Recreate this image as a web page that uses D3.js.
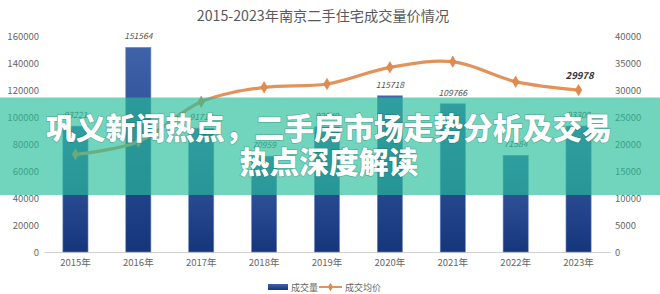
<!DOCTYPE html>
<html><head><meta charset="utf-8">
<script src="https://cdn.jsdelivr.net/npm/d3@7/dist/d3.min.js"></script>
<style>
html,body{margin:0;padding:0;background:#fff;}
svg{display:block;font-family:"Noto Sans CJK SC","Noto Sans",sans-serif;}
</style></head>
<body>
<svg id="c" width="660" height="294"></svg>
<script>
const title = "2015-2023年南京二手住宅成交量价情况";
const years = ["2015年","2016年","2017年","2018年","2019年","2020年","2021年","2022年","2023年"];
const volume = [93221,151564,91714,70959,92649,115718,109766,71584,93300];
const price = [18090,20430,27830,30500,31110,34200,35240,31540,29978];
const leftTicks = [0,20000,40000,60000,80000,100000,120000,140000,160000];
const rightTicks = [0,5000,10000,15000,20000,25000,30000,35000,40000];
const seriesNames = ["成交量","成交均价"];
const bannerLines = ["巩义新闻热点，二手房市场走势分析及交易","热点深度解读"];

const svg = d3.select("#c");
const W = 660, H = 294;
const x = d3.scaleBand().domain(years).range([44,610]).paddingInner(0.6).paddingOuter(0.3);
const yL = d3.scaleLinear().domain([0,160000]).range([252,36]);
const yR = d3.scaleLinear().domain([0,40000]).range([252,36]);

const defs = svg.append("defs");
const g = defs.append("linearGradient").attr("id","bg").attr("x1",0).attr("y1",0).attr("x2",0).attr("y2",1);
g.append("stop").attr("offset","0%").attr("stop-color","#3f62a8");
g.append("stop").attr("offset","100%").attr("stop-color","#16367c");

// title
svg.append("text").attr("x",323).attr("y",21).attr("text-anchor","middle")
  .attr("font-size",14.2).attr("fill","#595959").text(title);

// left axis
const axL = d3.axisLeft(yL).tickValues(leftTicks).tickSize(0).tickPadding(0).tickFormat(d3.format("d"));
const gL = svg.append("g").attr("transform","translate(39,0)").call(axL);
gL.select(".domain").remove();
gL.selectAll("text").attr("font-size",9.5).attr("fill","#666").attr("font-family","'Noto Sans CJK SC',sans-serif");

// right axis
const axR = d3.axisRight(yR).tickValues(rightTicks).tickSize(0).tickPadding(0).tickFormat(d3.format("d"));
const gR = svg.append("g").attr("transform","translate(615,0)").call(axR);
gR.select(".domain").remove();
gR.selectAll("text").attr("font-size",9.5).attr("fill","#666").attr("font-family","'Noto Sans CJK SC',sans-serif");

// x axis
const axX = d3.axisBottom(x).tickSize(0).tickPadding(7);
const gX = svg.append("g").attr("transform","translate(0,252)").call(axX);
gX.select(".domain").attr("stroke","#d0d0d0").attr("stroke-width",1);
gX.selectAll("text").attr("font-size",9.5).attr("fill","#666").attr("font-family","'Noto Sans CJK SC',sans-serif");

// bars
svg.append("g").selectAll("rect").data(volume).join("rect")
  .attr("x",(d,i)=>x(years[i])).attr("width",x.bandwidth())
  .attr("y",d=>yL(d)).attr("height",d=>yL(0)-yL(d))
  .attr("fill","url(#bg)").attr("stroke","#6f8cc4").attr("stroke-width",0.6);

// bar labels
svg.append("g").selectAll("text").data(volume).join("text")
  .attr("x",(d,i)=>x(years[i])+x.bandwidth()/2).attr("y",d=>yL(d)-8)
  .attr("text-anchor","middle").attr("font-size",8.5).attr("font-style","italic")
  .attr("fill","#555").text(d=>d);

// line
const cx = (i)=>x(years[i])+x.bandwidth()/2;
const line = d3.line().x((d,i)=>cx(i)).y(d=>yR(d)).curve(d3.curveCatmullRom.alpha(0.5));
svg.append("path").datum(price).attr("d",line).attr("fill","none")
  .attr("stroke","#e3925a").attr("stroke-width",3.2).attr("stroke-linecap","round");
const diamond = d3.symbol().type(d3.symbolDiamond).size(38);
svg.append("g").selectAll("path").data(price).join("path")
  .attr("transform",(d,i)=>`translate(${cx(i)},${yR(d)})`).attr("d",diamond)
  .attr("fill","#e08a4e").attr("stroke","#d98048").attr("stroke-width",0.5);

// line label (last)
const li = price.length-1;
svg.append("text").attr("x",cx(li)+1).attr("y",yR(price[li])-11)
  .attr("text-anchor","middle").attr("font-size",9.5).attr("font-style","italic").attr("font-weight","bold")
  .attr("fill","#333").text(price[li]);

// legend
const lg = svg.append("g");
lg.append("rect").attr("x",268).attr("y",284).attr("width",20).attr("height",6).attr("fill","url(#bg)");
lg.append("text").attr("x",291).attr("y",290.5).attr("font-size",9).attr("fill","#666").text(seriesNames[0]);
lg.append("line").attr("x1",319).attr("x2",342).attr("y1",287).attr("y2",287).attr("stroke","#e3925a").attr("stroke-width",2);
lg.append("path").attr("transform","translate(330.5,287)").attr("d",d3.symbol().type(d3.symbolDiamond).size(22)).attr("fill","#e08a4e");
lg.append("text").attr("x",345).attr("y",290.5).attr("font-size",9).attr("fill","#666").text(seriesNames[1]);

// banner overlay
svg.append("rect").attr("x",0).attr("y",97.5).attr("width",W).attr("height",97.5)
  .attr("fill","rgb(40,190,153)").attr("fill-opacity",0.66);
const bt = svg.append("g").attr("font-weight",900).attr("font-size",29.8).attr("fill","#fff")
  .attr("text-anchor","middle").style("paint-order","stroke");
bannerLines.forEach((t,i)=>{
  bt.append("text").attr("x",329).attr("y",138.5+i*34).attr("stroke","rgba(0,60,50,0.25)").attr("stroke-width",1.5).text(t);
});
</script>
</body></html>
